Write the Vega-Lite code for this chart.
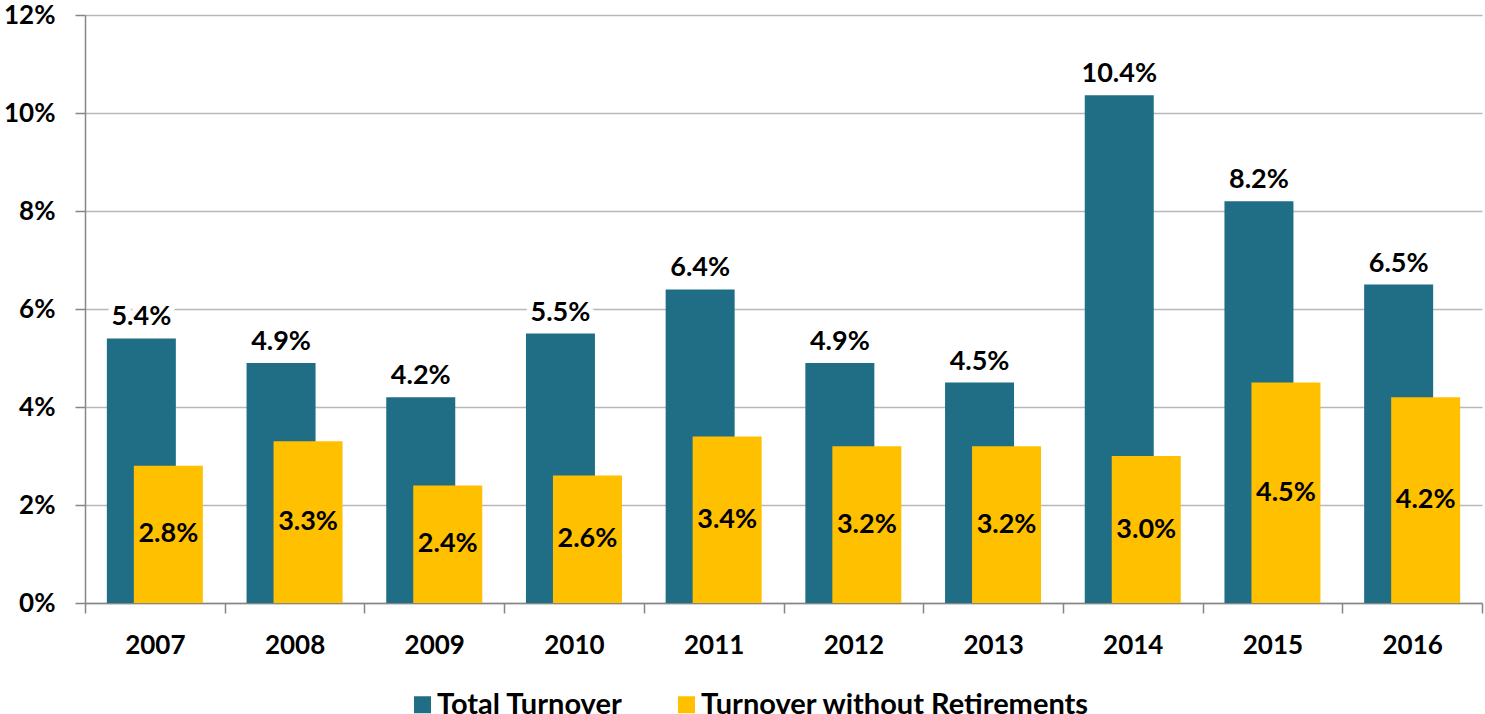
{
  "$schema": "https://vega.github.io/schema/vega-lite/v6.json",
  "autosize": {"type": "none"},
  "padding": {"left": 85, "top": 15, "right": 3, "bottom": 111},
  "width": 1397,
  "height": 588,
  "background": "white",
  "config": {"view": {"stroke": null}, "font": "Lato"},
  "data": {
    "values": [
      {"year": "2007", "total": 0.054, "without": 0.028},
      {"year": "2008", "total": 0.049, "without": 0.033},
      {"year": "2009", "total": 0.042, "without": 0.024},
      {"year": "2010", "total": 0.055, "without": 0.026},
      {"year": "2011", "total": 0.064, "without": 0.034},
      {"year": "2012", "total": 0.049, "without": 0.032},
      {"year": "2013", "total": 0.045, "without": 0.032},
      {"year": "2014", "total": 0.1036, "without": 0.030},
      {"year": "2015", "total": 0.082, "without": 0.045},
      {"year": "2016", "total": 0.065, "without": 0.042}
    ]
  },
  "transform": [{"calculate": "datum.without / 2", "as": "mid"}],
  "encoding": {
    "x": {
      "field": "year",
      "type": "ordinal",
      "scale": {"paddingInner": 0, "paddingOuter": 0},
      "axis": {
        "title": null,
        "labelAngle": 0,
        "labelFont": "Lato",
        "labelFontWeight": "bold",
        "labelFontSize": 26,
        "labelColor": "#000000",
        "labelPadding": 19,
        "tickBand": "extent",
        "tickSize": 10,
        "tickColor": "#868686",
        "tickWidth": 1.5,
        "domainColor": "#868686",
        "domainWidth": 1.5
      }
    }
  },
  "layer": [
    {
      "mark": {"type": "bar", "width": 69, "xOffset": -13.5},
      "encoding": {
        "y": {
          "field": "total",
          "type": "quantitative",
          "scale": {"domain": [0, 0.12], "nice": false},
          "axis": {
            "title": null,
            "format": ".0%",
            "values": [0, 0.02, 0.04, 0.06, 0.08, 0.1, 0.12],
            "labelFont": "Lato",
            "labelFontWeight": "bold",
            "labelFontSize": 26,
            "labelColor": "#000000",
            "labelPadding": 20,
            "tickSize": 10,
            "tickColor": "#868686",
            "tickWidth": 1.5,
            "domainColor": "#868686",
            "domainWidth": 1.5,
            "grid": true,
            "gridColor": "#b8b8b8",
            "gridWidth": 1.5
          }
        },
        "color": {
          "datum": "Total Turnover",
          "type": "nominal",
          "scale": {
            "domain": ["Total Turnover", "Turnover without Retirements"],
            "range": ["#1F6E85", "#FFC000"]
          },
          "legend": {
            "title": null,
            "orient": "none",
            "direction": "horizontal",
            "legendX": 323,
            "legendY": 675,
            "padding": 0,
            "symbolType": "square",
            "symbolSize": 289,
            "symbolStrokeWidth": 0,
            "labelFont": "Lato",
            "labelFontWeight": "bold",
            "labelFontSize": 29,
            "labelColor": "#000000",
            "labelOffset": 0,
            "columnPadding": 49,
            "labelLimit": 600
          }
        }
      }
    },
    {
      "mark": {"type": "bar", "width": 69, "xOffset": 13.5},
      "encoding": {
        "y": {"field": "without", "type": "quantitative"},
        "color": {"datum": "Turnover without Retirements", "type": "nominal"}
      }
    },
    {
      "mark": {"type": "text", "xOffset": -13.5, "dy": -21, "baseline": "middle", "font": "Lato", "fontWeight": "bold", "fontSize": 27, "fill": "white", "stroke": "white", "strokeWidth": 12, "strokeJoin": "round"},
      "encoding": {
        "y": {"field": "total", "type": "quantitative"},
        "text": {"field": "total", "type": "quantitative", "format": ".1%"}
      }
    },
    {
      "mark": {"type": "text", "xOffset": -13.5, "dy": -21, "baseline": "middle", "font": "Lato", "fontWeight": "bold", "fontSize": 27, "color": "#000000"},
      "encoding": {
        "y": {"field": "total", "type": "quantitative"},
        "text": {"field": "total", "type": "quantitative", "format": ".1%"}
      }
    },
    {
      "mark": {"type": "text", "xOffset": 13.5, "baseline": "middle", "font": "Lato", "fontWeight": "bold", "fontSize": 27, "color": "#000000"},
      "encoding": {
        "y": {"field": "mid", "type": "quantitative"},
        "text": {"field": "without", "type": "quantitative", "format": ".1%"}
      }
    }
  ]
}
